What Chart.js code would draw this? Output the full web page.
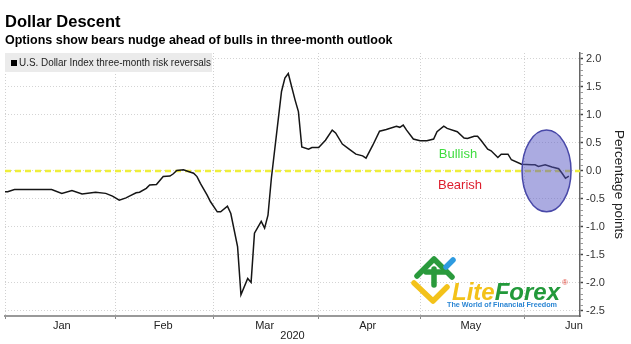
<!DOCTYPE html>
<html>
<head>
<meta charset="utf-8">
<script src="https://cdn.jsdelivr.net/npm/chart.js@4.4.1/dist/chart.umd.min.js"></script>
<style>
    html, body { margin: 0; padding: 0; background: #fff; }
    #wrap { width: 631px; height: 344px; }
</style>
</head>
<body>
<div id="wrap"><canvas id="chart"></canvas></div>
<script>
// U.S. Dollar Index three-month risk reversals (percentage points)
const dates = [
    '2019-12-30', '2019-12-31', '2020-01-02', '2020-01-05', '2020-01-08', '2020-01-11', '2020-01-13',
    '2020-01-16', '2020-01-19', '2020-01-22', '2020-01-26', '2020-01-29', '2020-01-31',
    '2020-02-02', '2020-02-04', '2020-02-05', '2020-02-07', '2020-02-08', '2020-02-10', '2020-02-11',
    '2020-02-13', '2020-02-15', '2020-02-17', '2020-02-18', '2020-02-19', '2020-02-21', '2020-02-22',
    '2020-02-24', '2020-02-25', '2020-02-26', '2020-02-28', '2020-02-29',
    '2020-03-02', '2020-03-03', '2020-03-05', '2020-03-06', '2020-03-08', '2020-03-09', '2020-03-11',
    '2020-03-12', '2020-03-13', '2020-03-15', '2020-03-16', '2020-03-17', '2020-03-18', '2020-03-21',
    '2020-03-22', '2020-03-23', '2020-03-25', '2020-03-26', '2020-03-27', '2020-03-29', '2020-03-30',
    '2020-04-01', '2020-04-03', '2020-04-05', '2020-04-06', '2020-04-08', '2020-04-10', '2020-04-12',
    '2020-04-14', '2020-04-15', '2020-04-17', '2020-04-19', '2020-04-21', '2020-04-24', '2020-04-25',
    '2020-04-26', '2020-04-27', '2020-04-29',
    '2020-05-01', '2020-05-03', '2020-05-05', '2020-05-06', '2020-05-08', '2020-05-09', '2020-05-12',
    '2020-05-14', '2020-05-15', '2020-05-17', '2020-05-18', '2020-05-19', '2020-05-21', '2020-05-22',
    '2020-05-24', '2020-05-25', '2020-05-27', '2020-05-28', '2020-05-31',
    '2020-06-03', '2020-06-04', '2020-06-05', '2020-06-07', '2020-06-09', '2020-06-11', '2020-06-12',
    '2020-06-13', '2020-06-14'
];
const riskReversals = [
    -0.37, -0.37, -0.33, -0.33, -0.33, -0.33, -0.33,
    -0.40, -0.35, -0.41, -0.38, -0.40, -0.45,
    -0.52, -0.48, -0.45, -0.39, -0.38, -0.31, -0.25,
    -0.24, -0.10, -0.09, -0.05, 0.01, 0.02, 0.00,
    -0.04, -0.10, -0.22, -0.43, -0.55,
    -0.73, -0.73, -0.63, -0.76, -1.35, -2.21, -1.92,
    -1.99, -1.11, -0.90, -1.02, -0.79, -0.13, 1.42,
    1.66, 1.74, 1.27, 1.06, 0.43, 0.39, 0.42,
    0.42, 0.55, 0.73, 0.68, 0.48, 0.39, 0.30,
    0.27, 0.23, 0.46, 0.71, 0.74, 0.80, 0.78,
    0.82, 0.73, 0.57,
    0.54, 0.54, 0.57, 0.70, 0.80, 0.76, 0.70,
    0.59, 0.58, 0.62, 0.62, 0.55, 0.39, 0.36,
    0.24, 0.30, 0.30, 0.20, 0.12,
    0.11, 0.11, 0.08, 0.11, 0.07, 0.04, -0.04,
    -0.13, -0.09
];

// Axis
const monthStarts = ['2020-02-01', '2020-03-01', '2020-04-01', '2020-05-01', '2020-06-01'];
const monthNames = ['Jan', 'Feb', 'Mar', 'Apr', 'May', 'Jun'];
const monthMids = ['2020-01-16', '2020-02-15', '2020-03-16', '2020-04-15.5', '2020-05-16', '2020-06-15.5'];
const yTickValues = [-2.5, -2.0, -1.5, -1.0, -0.5, 0.0, 0.5, 1.0, 1.5, 2.0];
const xMin = -1.8, xMax = 168.3;
const yMin = -2.59, yMax = 2.107;

// minor ticks every 0.1 on the value axis
const yMinorTicks = [];
for (let k = -25; k <= 21; k++) {
    if (k % 5 !== 0) yMinorTicks.push(k / 10);
}

// Annotations (data coordinates)
const bullishLabel = { text: 'Bullish', x: 132.2, y: 0.30 };
const bearishLabel = { text: 'Bearish', x: 132.8, y: -0.25 };
const ellipseCenter = { x: 158.4, y: 0 };
const ellipseRadius = { x: 7.25, y: 0.73 };
const legendLabel = 'U.S. Dollar Index three-month risk reversals';

// day number counted from 1 Jan 2020 (fractional day allowed for mid-month)
function dayOf(str) {
    const p = str.split('-');
    const d = parseFloat(p[2]);
    return (Date.UTC(+p[0], +p[1] - 1, 1) - Date.UTC(2020, 0, 1)) / 86400000 + d - 1;
}

const boundaryDays = [xMin].concat(monthStarts.map(dayOf));
const labelDays = monthMids.map(dayOf);
const xTickDays = boundaryDays.concat(labelDays).sort((a, b) => a - b);

function isBoundary(v) {
    return boundaryDays.some(b => Math.abs(b - v) < 1e-6);
}

function isMajorY(v) {
    return yTickValues.some(t => Math.abs(t - v) < 1e-6);
}

const overlayPlugin = {
    id: 'overlays',
    afterDatasetsDraw(chart) {
        const { ctx, scales: { x, y } } = chart;
        ctx.save();

        // Bullish / Bearish
        ctx.font = '13px "Liberation Sans", Arial, sans-serif';
        ctx.textAlign = 'center';
        ctx.textBaseline = 'middle';
        ctx.fillStyle = '#3fdc3f';
        ctx.fillText(bullishLabel.text, x.getPixelForValue(bullishLabel.x), y.getPixelForValue(bullishLabel.y));
        ctx.fillStyle = '#dd1f2e';
        ctx.fillText(bearishLabel.text, x.getPixelForValue(bearishLabel.x), y.getPixelForValue(bearishLabel.y));

        // highlight ellipse
        const cx = x.getPixelForValue(ellipseCenter.x);
        const cy = y.getPixelForValue(ellipseCenter.y);
        const rx = x.getPixelForValue(ellipseCenter.x + ellipseRadius.x) - cx;
        const ry = cy - y.getPixelForValue(ellipseCenter.y + ellipseRadius.y);
        ctx.beginPath();
        ctx.ellipse(cx, cy, rx, ry, 0, 0, Math.PI * 2);
        ctx.fillStyle = 'rgba(88, 88, 196, 0.5)';
        ctx.fill();
        ctx.lineWidth = 1.5;
        ctx.strokeStyle = '#4848a8';
        ctx.stroke();
        ctx.restore();
    },
    afterDraw(chart) {
        const { ctx, chartArea } = chart;
        ctx.save();

        // legend box
        ctx.fillStyle = '#ebebeb';
        ctx.fillRect(chartArea.left, chartArea.top, 207, 19);
        ctx.fillStyle = '#000';
        ctx.fillRect(chartArea.left + 6, chartArea.top + 7, 6, 6);
        ctx.fillStyle = '#222';
        ctx.font = '10px "Liberation Sans", Arial, sans-serif';
        ctx.textBaseline = 'middle';
        ctx.fillText(legendLabel, chartArea.left + 14, chartArea.top + 10.5, 192);

        // LiteForex watermark
        const ox = chartArea.right - 168;
        const oy = chartArea.bottom - 59;
        ctx.lineCap = 'round';
        ctx.lineJoin = 'round';
        ctx.lineWidth = 5.5;
        ctx.strokeStyle = '#f3c21a';
        ctx.beginPath();
        ctx.moveTo(ox + 2, oy + 26);
        ctx.lineTo(ox + 21, oy + 44);
        ctx.lineTo(ox + 35, oy + 30);
        ctx.stroke();
        ctx.strokeStyle = '#2a9a3c';
        ctx.beginPath();
        ctx.moveTo(ox + 5, oy + 19);
        ctx.lineTo(ox + 22, oy + 2);
        ctx.lineTo(ox + 40, oy + 20);
        ctx.stroke();
        ctx.beginPath();
        ctx.moveTo(ox + 14, oy + 15);
        ctx.lineTo(ox + 33, oy + 15);
        ctx.moveTo(ox + 22, oy + 12);
        ctx.lineTo(ox + 22, oy + 28);
        ctx.stroke();
        ctx.strokeStyle = '#2e9be0';
        ctx.beginPath();
        ctx.moveTo(ox + 34, oy + 10);
        ctx.lineTo(ox + 41, oy + 3);
        ctx.stroke();

        ctx.textBaseline = 'alphabetic';
        ctx.textAlign = 'left';
        ctx.font = 'italic bold 24px "Liberation Sans", Arial, sans-serif';
        ctx.fillStyle = '#f3c21a';
        ctx.fillText('Lite', ox + 40, oy + 43);
        const liteW = ctx.measureText('Lite').width;
        ctx.fillStyle = '#22993a';
        ctx.fillText('Forex', ox + 40 + liteW, oy + 43, 108 - liteW);
        ctx.fillStyle = '#e0483c';
        ctx.font = '8px "Liberation Sans", Arial, sans-serif';
        ctx.fillText('®', ox + 150, oy + 28);
        ctx.fillStyle = '#2b86d4';
        ctx.font = 'bold 7.5px "Liberation Sans", Arial, sans-serif';
        ctx.fillText('The World of Financial Freedom', ox + 35, oy + 50, 110);
        ctx.restore();
    }
};

Chart.defaults.font.family = '"Liberation Sans", Arial, sans-serif';

new Chart(document.getElementById('chart').getContext('2d'), {
    type: 'line',
    data: {
        datasets: [{
            label: legendLabel,
            data: dates.map((d, i) => ({ x: dayOf(d), y: riskReversals[i] })),
            borderColor: '#151515',
            borderWidth: 1.5,
            pointRadius: 0,
            tension: 0
        }, {
            label: 'zero',
            data: [{ x: xMin, y: 0 }, { x: xMax, y: 0 }],
            borderColor: '#eeee3a',
            borderWidth: 2.5,
            borderDash: [6, 4],
            pointRadius: 0
        }]
    },
    options: {
        responsive: true,
        maintainAspectRatio: false,
        animation: false,
        layout: { padding: { left: 5, right: 0, top: 0, bottom: 0 } },
        plugins: {
            legend: { display: false },
            tooltip: { enabled: false },
            title: {
                display: true,
                text: 'Dollar Descent',
                align: 'start',
                color: '#000',
                font: { size: 16.5, weight: 'bold' },
                padding: { top: 13, bottom: 0 }
            },
            subtitle: {
                display: true,
                text: 'Options show bears nudge ahead of bulls in three-month outlook',
                align: 'start',
                color: '#000',
                font: { size: 12.5, weight: 'bold' },
                padding: { top: 0, bottom: 5.2 }
            }
        },
        scales: {
            x: {
                type: 'linear',
                min: xMin,
                max: xMax,
                afterBuildTicks: function(scale) {
                    scale.ticks = xTickDays.map(v => ({ value: v }));
                },
                afterFit: function(scale) { scale.height = 28; },
                ticks: {
                    autoSkip: false,
                    maxRotation: 0,
                    padding: 0,
                    color: '#222',
                    font: { size: 11 },
                    callback: function(value) {
                        const i = labelDays.findIndex(d => Math.abs(d - value) < 1e-6);
                        return i >= 0 ? monthNames[i] : '';
                    }
                },
                grid: {
                    color: c => (c.tick && isBoundary(c.tick.value)) ? '#d0d0d0' : 'rgba(0,0,0,0)',
                    tickColor: c => (c.tick && isBoundary(c.tick.value)) ? '#888' : 'rgba(0,0,0,0)',
                    tickLength: 3,
                    tickBorderDash: []
                },
                border: { display: true, color: '#999', width: 2, dash: [1, 2] },
                title: {
                    display: true,
                    text: '2020',
                    color: '#222',
                    font: { size: 11 },
                    padding: { top: 0, bottom: 1 }
                }
            },
            y: {
                position: 'right',
                min: yMin,
                max: yMax,
                afterBuildTicks: function(scale) {
                    scale.ticks = yTickValues.concat(yMinorTicks)
                        .sort((a, b) => a - b)
                        .map(v => ({ value: v }));
                },
                afterFit: function(scale) { scale.width = 51; },
                ticks: {
                    autoSkip: false,
                    color: '#333',
                    font: { size: 11 },
                    padding: 3,
                    callback: v => isMajorY(v) ? v.toFixed(1) : ''
                },
                grid: {
                    color: c => (c.tick && isMajorY(c.tick.value)) ? '#d4d4d4' : 'rgba(0,0,0,0)',
                    tickColor: c => (c.tick && isMajorY(c.tick.value)) ? '#444' : '#999',
                    tickWidth: c => (c.tick && isMajorY(c.tick.value)) ? 1.5 : 1,
                    tickLength: 3,
                    tickBorderDash: []
                },
                border: { display: true, color: '#666', width: 1.5, dash: [1, 2] },
                title: {
                    display: true,
                    text: 'Percentage points',
                    color: '#222',
                    font: { size: 13.5 },
                    padding: { top: 4, bottom: 0 }
                }
            }
        }
    },
    plugins: [overlayPlugin]
});
</script>
</body>
</html>
